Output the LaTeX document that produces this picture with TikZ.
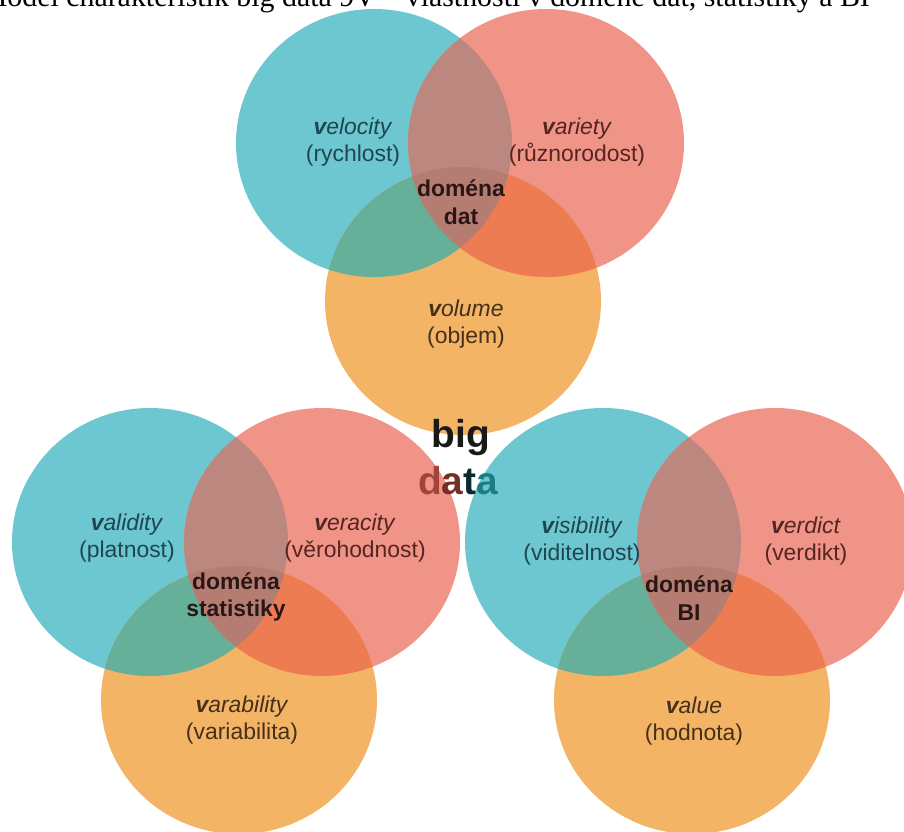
\documentclass[tikz,border=0pt]{standalone}
\usepackage{fontspec}
\setmainfont{Liberation Serif}
\newfontfamily\arialfont{Liberation Sans}
\usepackage{tikz}

\definecolor{vblue}{HTML}{6CC7D1}
\definecolor{vred}{HTML}{F09487}
\definecolor{vorange}{HTML}{F3B466}
\definecolor{vbluered}{HTML}{BC877F}
\definecolor{vblueorange}{HTML}{66AF99}
\definecolor{vredorange}{HTML}{EE7C52}
\definecolor{vall}{HTML}{B57C72}
\definecolor{bluetext}{HTML}{1F4650}
\definecolor{redtext}{HTML}{552522}
\definecolor{orangetext}{HTML}{45301A}
\definecolor{domtext}{HTML}{2A1715}
\definecolor{datared}{HTML}{A3443B}
\definecolor{datateal}{HTML}{1E7D84}

\begin{document}
\begin{tikzpicture}[x=1bp, y=-1bp,
    lbl/.style={align=center, inner sep=0pt,
      font=\arialfont\fontsize{23}{27}\selectfont},
    dom/.style={lbl, text=domtext,
      font=\arialfont\bfseries\fontsize{23}{28}\selectfont},
    bigdata/.style={anchor=base, inner sep=0pt,
      font=\arialfont\bfseries\fontsize{39}{44}\selectfont}]
  % Frame
  \useasboundingbox (0,0) rectangle (904,832);
  \clip (0,0) rectangle (904,832);

  % Caption line, cut by the top edge
  \node[anchor=base east, inner sep=0pt, font=\fontsize{30}{34}\selectfont]
    (caption) at (870,6) {Model charakteristik big data 9V -- vlastnosti v doméně dat, statistiky a BI};

  % Three circles per domain, overlaps filled by clipping
  \foreach \gx/\gy in {460/143, 236/542, 689/542} {
    \def\ringB{(\gx-86,\gy) ellipse [x radius=138, y radius=134]}
    \def\ringR{(\gx+86,\gy) ellipse [x radius=138, y radius=134]}
    \def\ringO{(\gx+3,\gy+158) ellipse [x radius=138, y radius=134]}
    \fill[vblue] \ringB;
    \fill[vred] \ringR;
    \fill[vorange] \ringO;
    \begin{scope} \clip \ringB; \fill[vbluered] \ringR; \end{scope}
    \begin{scope} \clip \ringB; \fill[vblueorange] \ringO; \end{scope}
    \begin{scope} \clip \ringR; \fill[vredorange] \ringO; \end{scope}
    \begin{scope} \clip \ringB; \clip \ringR; \fill[vall] \ringO; \end{scope}
  }

  % Domain of data
  \node[lbl, text=bluetext] (velocity) at (353,142) {\textit{\textbf{v}elocity}\\(rychlost)};
  \node[lbl, text=redtext] (variety) at (577,142) {\textit{\textbf{v}ariety}\\(různorodost)};
  \node[lbl, text=orangetext] (volume) at (466,324) {\textit{\textbf{v}olume}\\(objem)};
  \node[dom] (domdat) at (461,202) {doména\\dat};

  % Domain of statistics
  \node[lbl, text=bluetext] (validity) at (127,538) {\textit{\textbf{v}alidity}\\(platnost)};
  \node[lbl, text=redtext] (veracity) at (355,538) {\textit{\textbf{v}eracity}\\(věrohodnost)};
  \node[lbl, text=orangetext] (varability) at (242,720) {\textit{\textbf{v}arability}\\(variabilita)};
  \node[dom] (domstat) at (236,597) {doména\\statistiky};

  % Domain of BI
  \node[lbl, text=bluetext] (visibility) at (582,541) {\textit{\textbf{v}isibility}\\(viditelnost)};
  \node[lbl, text=redtext] (verdict) at (806,541) {\textit{\textbf{v}erdict}\\(verdikt)};
  \node[lbl, text=orangetext] (value) at (694,721) {\textit{\textbf{v}alue}\\(hodnota)};
  \node[dom] (dombi) at (689,598) {doména\\BI};

  % big data in the middle
  \node[bigdata, text=black!90] (big) at (461,447) {big};
  \node[bigdata] (data) at (458,494) {\textcolor{datared}{d}\textcolor{datared!70!black}{a}\textcolor{datateal!35!black}{t}\textcolor{datateal}{a}};
\end{tikzpicture}
\end{document}
